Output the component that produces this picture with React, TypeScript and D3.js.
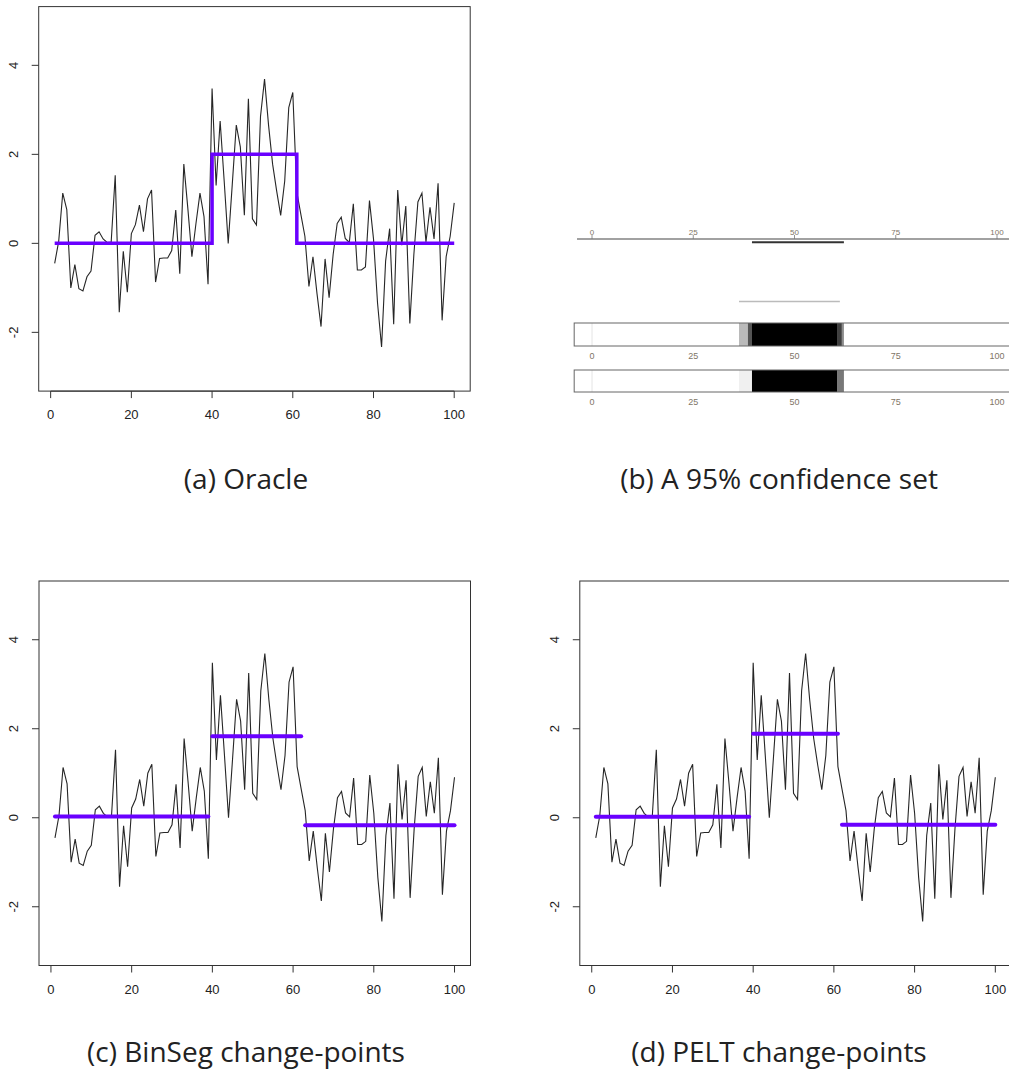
import React from 'react';
import * as d3 from 'd3';

// observed series, t = 1..100
const series = [
  -0.45, 0.05, 1.13, 0.76, -1.0, -0.48, -1.02, -1.07, -0.75, -0.62,
  0.18, 0.26, 0.1, 0.02, 0.03, 1.53, -1.55, -0.18, -1.1, 0.22,
  0.42, 0.86, 0.26, 1.0, 1.2, -0.87, -0.34, -0.33, -0.33, -0.16,
  0.75, -0.68, 1.78, 0.78, -0.3, 0.44, 1.13, 0.6, -0.92, 3.48,
  1.3, 2.75, 1.4, 0.0, 1.32, 2.66, 2.17, 0.63, 3.25, 0.55,
  0.41, 2.85, 3.69, 2.65, 1.78, 1.18, 0.63, 1.4, 3.05, 3.39,
  1.15, 0.65, 0.16, -0.97, -0.3, -1.13, -1.87, -0.35, -1.22, -0.25,
  0.45, 0.59, 0.11, 0.02, 0.89, -0.6, -0.6, -0.53, 0.96, 0.1,
  -1.34, -2.33, -0.4, 0.33, -1.82, 1.2, -0.04, 0.84, -1.8, -0.25,
  0.93, 1.13, 0.03, 0.81, 0.1, 1.35, -1.73, -0.3, 0.16, 0.91,
];

const xTicks = [0, 20, 40, 60, 80, 100];
const yTicks = [-2, 0, 2, 4];
const yLimits = [-3, 5];

// oracle mean: step function
const oracleX = [1, 40, 61, 100];
const oracleY = [0, 2, 0, 0];

// BinSeg segments
const binsegStart = [1, 40, 63];
const binsegEnd = [39, 62, 100];
const binsegMean = [0.03, 1.83, -0.17];

// PELT segments
const peltStart = [1, 40, 62];
const peltEnd = [39, 61, 100];
const peltMean = [0.02, 1.89, -0.16];

// panel (b): confidence set
const confTicks = [0, 25, 50, 75, 100];
const confInterval = [39.5, 62.2];
const confGrayInterval = [36.3, 61.2];
const bar1From = [36.3, 38.5, 39.5, 60.5, 61.7];
const bar1To = [38.5, 39.5, 60.5, 61.7, 62.2];
const bar1Weight = [0.27, 0.67, 1, 0.75, 0.45];
const bar2From = [36.3, 39.5, 60.5];
const bar2To = [39.5, 60.5, 62.2];
const bar2Weight = [0.06, 1, 0.53];

const captions = [
  '(a) Oracle',
  '(b) A 95% confidence set',
  '(c) BinSeg change-points',
  '(d) PELT change-points',
];

const BLUE = '#6a00ff';
const AXIS = '#333';
const TICKFONT = 'Liberation Sans, Arial, sans-serif';

type Seg = { start: number[]; end: number[]; mean: number[] };

function SeriesPanel({ left, top, segs, oracle }: { left: number; top: number; segs?: Seg; oracle?: boolean }) {
  const W = 431.5;
  const H = 384.5;
  const xr = 99 * 0.04;
  const yr = (yLimits[1] - yLimits[0]) * 0.04;
  const x = d3.scaleLinear().domain([1 - xr, 100 + xr]).range([left, left + W]);
  const y = d3.scaleLinear().domain([yLimits[0] - yr, yLimits[1] + yr]).range([top + H, top]);
  const bottom = top + H;

  const line = d3.line<number>().x((_, i) => x(i + 1)).y(d => y(d));
  const step = d3
    .line<number>()
    .x((_, i) => x(oracleX[i]))
    .y(d => y(d))
    .curve(d3.curveStepAfter);

  return (
    <g>
      <rect x={left} y={top} width={W} height={H} fill="none" stroke={AXIS} strokeWidth={1} />
      {/* x axis */}
      <line x1={x(xTicks[0])} x2={x(xTicks[xTicks.length - 1])} y1={bottom} y2={bottom} stroke={AXIS} />
      {xTicks.map(t => (
        <g key={'x' + t}>
          <line x1={x(t)} x2={x(t)} y1={bottom} y2={bottom + 7} stroke={AXIS} />
          <text x={x(t)} y={bottom + 28} textAnchor="middle" fontFamily={TICKFONT} fontSize={13} fill="#222">
            {t}
          </text>
        </g>
      ))}
      {/* y axis */}
      {yTicks.map(t => (
        <g key={'y' + t}>
          <line x1={left - 7} x2={left} y1={y(t)} y2={y(t)} stroke={AXIS} />
          <text
            transform={`translate(${left - 21},${y(t)}) rotate(-90)`}
            textAnchor="middle"
            fontFamily={TICKFONT}
            fontSize={13}
            fill="#222"
          >
            {t}
          </text>
        </g>
      ))}
      <path d={line(series) || ''} fill="none" stroke="#262626" strokeWidth={1.1} />
      {oracle && (
        <path d={step(oracleY) || ''} fill="none" stroke={BLUE} strokeWidth={3.5} />
      )}
      {segs &&
        segs.mean.map((m, i) => (
          <line
            key={i}
            x1={x(segs.start[i])}
            x2={x(segs.end[i])}
            y1={y(m)}
            y2={y(m)}
            stroke={BLUE}
            strokeWidth={4}
            strokeLinecap="round"
          />
        ))}
    </g>
  );
}

function ConfidencePanel() {
  const x = d3.scaleLinear().domain([0, 100]).range([592, 997]);
  const shade = d3.scaleLinear<string>().domain([0, 1]).range(['#ffffff', '#000000']);
  const bars = [
    { top: 323, h: 23, from: bar1From, to: bar1To, w: bar1Weight },
    { top: 370, h: 22, from: bar2From, to: bar2To, w: bar2Weight },
  ];
  return (
    <g>
      {/* top axis */}
      <line x1={x(-3.7)} x2={x(104)} y1={239} y2={239} stroke="#444" strokeWidth={1.2} />
      {confTicks.map(t => (
        <g key={'t' + t}>
          <line x1={x(t)} x2={x(t)} y1={235} y2={239} stroke="#777" strokeWidth={0.8} />
          <text x={x(t)} y={234.5} textAnchor="middle" fontFamily={TICKFONT} fontSize={8} fill="#807566">
            {t}
          </text>
        </g>
      ))}
      <line x1={x(confInterval[0])} x2={x(confInterval[1])} y1={242.3} y2={242.3} stroke="#333" strokeWidth={2} />
      <line x1={x(confGrayInterval[0])} x2={x(confGrayInterval[1])} y1={301.5} y2={301.5} stroke="#bbb" strokeWidth={1.5} />
      {bars.map((b, bi) => (
        <g key={bi}>
          <rect x={x(-4.4)} y={b.top} width={x(105) - x(-4.4)} height={b.h} fill="#fff" />
          <line x1={x(0)} x2={x(0)} y1={b.top} y2={b.top + b.h} stroke="#e4e4e4" />
          {b.from.map((f, i) => (
            <rect key={i} x={x(f)} y={b.top} width={x(b.to[i]) - x(f)} height={b.h} fill={shade(b.w[i])} />
          ))}
          <rect x={x(-4.4)} y={b.top} width={x(105) - x(-4.4)} height={b.h} fill="none" stroke="#666" strokeWidth={1} />
          {confTicks.map(t => (
            <text
              key={t}
              x={x(t)}
              y={b.top + b.h + 13}
              textAnchor="middle"
              fontFamily={TICKFONT}
              fontSize={9}
              fill="#807566"
            >
              {t}
            </text>
          ))}
        </g>
      ))}
    </g>
  );
}

export default function App() {
  const capFont = "'Open Sans', 'Noto Sans', sans-serif";
  return (
    <div style={{ position: 'absolute', left: 0, top: 0 }}>
      <svg width={1009} height={1073} style={{ display: 'block', background: '#fff' }}>
        <SeriesPanel left={38.7} top={6.6} oracle />
        <ConfidencePanel />
        <SeriesPanel left={39} top={581} segs={{ start: binsegStart, end: binsegEnd, mean: binsegMean }} />
        <SeriesPanel left={579.8} top={581} segs={{ start: peltStart, end: peltEnd, mean: peltMean }} />
        {captions.map((c, i) => (
          <text
            key={c}
            x={i % 2 === 0 ? 246 : 779}
            y={i < 2 ? 489 : 1062}
            textAnchor="middle"
            fontFamily={capFont}
            fontSize={28}
            fill="#222"
          >
            {c}
          </text>
        ))}
      </svg>
    </div>
  );
}
